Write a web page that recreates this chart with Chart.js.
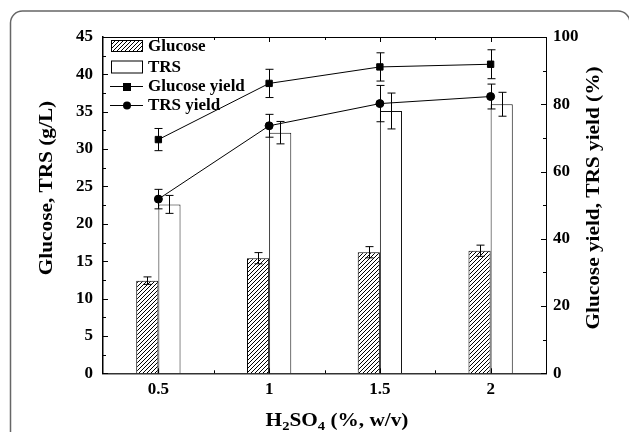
<!DOCTYPE html>
<html>
<head>
<meta charset="utf-8">
<script src="https://cdn.jsdelivr.net/npm/chart.js"></script>
<style>
  html, body { margin: 0; padding: 0; background: #fff; }
  canvas { display: block; }
</style>
</head>
<body>
<canvas id="chart" width="629" height="432"></canvas>
<script>
// H2SO4 concentration vs glucose / TRS and their yields

const categories = ['0.5', '1', '1.5', '2'];

const glucose = [12.4, 15.4, 16.2, 16.4];
const glucoseErr = [0.5, 0.75, 0.75, 0.75];
const trs = [22.6, 32.2, 35.1, 36.0];
const trsErr = [1.2, 1.5, 2.4, 1.6];

const glucoseYield = [69.5, 86.2, 91.1, 91.9];
const glucoseYieldErr = [3.3, 4.2, 4.2, 4.3];
const trsYield = [51.8, 73.6, 80.2, 82.3];
const trsYieldErr = [2.9, 3.4, 5.4, 3.7];

const leftMax = 45, leftStep = 5;
const rightMax = 100, rightStep = 20;

const leftTitle = 'Glucose, TRS (g/L)';
const rightTitle = 'Glucose yield, TRS yield (%)';
const legendLabels = ['Glucose', 'TRS', 'Glucose yield', 'TRS yield'];

const FONT = '"Liberation Serif", "Times New Roman", serif';

// diagonal hatch for the glucose bars
function makeHatch() {
    const c = document.createElement('canvas');
    c.width = 4; c.height = 4;
    const g = c.getContext('2d');
    g.fillStyle = '#fff';
    g.fillRect(0, 0, 4, 4);
    g.strokeStyle = '#000';
    g.lineWidth = 1;
    g.beginPath();
    g.moveTo(0, 4); g.lineTo(4, 0);
    g.moveTo(-1, 1); g.lineTo(1, -1);
    g.moveTo(3, 5); g.lineTo(5, 3);
    g.stroke();
    return g.createPattern(c, 'repeat');
}
const hatch = makeHatch();

const errors = [glucoseErr, trsErr, glucoseYieldErr, trsYieldErr];

// outer rounded frame
const framePlugin = {
    id: 'frame',
    beforeDraw(chart) {
        const ctx = chart.ctx;
        ctx.save();
        ctx.fillStyle = '#fff';
        ctx.fillRect(0, 0, chart.width, chart.height);
        ctx.strokeStyle = '#666';
        ctx.lineWidth = 1.5;
        const r = 12;
        ctx.beginPath();
        ctx.moveTo(10.5, chart.height + 2);
        ctx.lineTo(10.5, 11 + r);
        ctx.arcTo(10.5, 11, 10.5 + r, 11, r);
        ctx.lineTo(630 - r, 11);
        ctx.arcTo(630, 11, 630, 11 + r, r);
        ctx.lineTo(630, chart.height + 2);
        ctx.stroke();
        ctx.restore();
    }
};

// rotated title, stretched a little along the text like the original
function vTitle(ctx, text, cx, cy) {
    ctx.save();
    ctx.translate(cx, cy);
    ctx.rotate(-Math.PI / 2);
    ctx.scale(1.12, 1);
    ctx.fillText(text, 0, 0);
    ctx.restore();
}

const decorPlugin = {
    id: 'decor',
    afterDatasetsDraw(chart) {
        const ctx = chart.ctx;
        const area = chart.chartArea;
        const x = chart.scales.x;
        const y = chart.scales.y;
        const y1 = chart.scales.y1;

        ctx.save();
        // error bars
        ctx.strokeStyle = '#000';
        ctx.lineWidth = 1;
        chart.data.datasets.forEach((ds, i) => {
            const meta = chart.getDatasetMeta(i);
            const scale = chart.scales[meta.yAxisID];
            const err = errors[i];
            meta.data.forEach((el, j) => {
                const v = ds.data[j];
                const px = Math.round(el.x) + 0.5;
                const top = scale.getPixelForValue(v + err[j]);
                const bot = scale.getPixelForValue(v - err[j]);
                ctx.beginPath();
                ctx.moveTo(px, top); ctx.lineTo(px, bot);
                ctx.moveTo(px - 4, top); ctx.lineTo(px + 4, top);
                ctx.moveTo(px - 4, bot); ctx.lineTo(px + 4, bot);
                ctx.stroke();
            });
        });

        // top frame line
        ctx.beginPath();
        ctx.moveTo(area.left, area.top + 0.5);
        ctx.lineTo(area.right, area.top + 0.5);
        ctx.stroke();

        // inward ticks, left axis
        ctx.beginPath();
        for (let v = 0; v <= leftMax; v += leftStep / 2) {
            const py = Math.round(y.getPixelForValue(v)) + 0.5;
            const len = (v % leftStep === 0) ? 5 : 3;
            ctx.moveTo(area.left, py); ctx.lineTo(area.left + len, py);
        }
        // right axis
        for (let v = 0; v <= rightMax; v += rightStep / 2) {
            const py = Math.round(y1.getPixelForValue(v)) + 0.5;
            const len = (v % rightStep === 0) ? 5 : 3;
            ctx.moveTo(area.right, py); ctx.lineTo(area.right - len, py);
        }
        // top and bottom ticks, at categories and half-way
        const half = (x.getPixelForValue(1) - x.getPixelForValue(0)) / 2;
        categories.forEach((c, i) => {
            const px = x.getPixelForValue(i);
            [px, px + half].forEach((p, k) => {
                if (p >= area.right - 1) return;
                const xx = Math.round(p) + 0.5;
                const len = k === 0 ? 5 : 3;
                ctx.moveTo(xx, area.top); ctx.lineTo(xx, area.top + len);
                ctx.moveTo(xx, area.bottom); ctx.lineTo(xx, area.bottom - len);
            });
        });
        ctx.stroke();

        // legend
        const lx = 111, lw = 31, tx = 148;
        const rows = [46, 66.5, 86, 105];
        // hatched box
        ctx.fillStyle = hatch;
        ctx.fillRect(lx, rows[0] - 6, lw, 11);
        ctx.strokeStyle = '#000';
        ctx.strokeRect(lx + 0.5, rows[0] - 5.5, lw, 11);
        // open box
        ctx.fillStyle = '#fff';
        ctx.fillRect(lx, rows[1] - 6, lw, 12);
        ctx.strokeRect(lx + 0.5, rows[1] - 5.5, lw, 12);
        // line + markers
        ctx.beginPath();
        ctx.moveTo(lx - 1, rows[2] + 0.5); ctx.lineTo(lx + lw + 1, rows[2] + 0.5);
        ctx.moveTo(lx - 1, rows[3] + 0.5); ctx.lineTo(lx + lw + 1, rows[3] + 0.5);
        ctx.stroke();
        ctx.fillStyle = '#000';
        ctx.fillRect(lx + lw / 2 - 3.5, rows[2] - 3, 8, 8);
        ctx.beginPath();
        ctx.arc(lx + lw / 2 + 0.5, rows[3] + 0.5, 4, 0, Math.PI * 2);
        ctx.fill();
        ctx.font = 'bold 17px ' + FONT;
        ctx.textBaseline = 'middle';
        ctx.textAlign = 'left';
        legendLabels.forEach((t, i) => ctx.fillText(t, tx, rows[i] + 1));

        // axis titles
        ctx.font = 'bold 19px ' + FONT;
        ctx.textAlign = 'center';
        vTitle(ctx, leftTitle, 47, 188);
        vTitle(ctx, rightTitle, 594, 198);

        // x title with subscripts: H2SO4 (%, w/v)
        const parts = [['H', false], ['2', true], ['SO', false], ['4', true], [' (%, w/v)', false]];
        const big = 'bold 19px ' + FONT, small = 'bold 13px ' + FONT;
        ctx.textAlign = 'left';
        ctx.textBaseline = 'alphabetic';
        const sx = 1.12;
        let total = 0;
        parts.forEach(([s, sub]) => { ctx.font = sub ? small : big; total += ctx.measureText(s).width * sx; });
        let cx = 337 - total / 2;
        parts.forEach(([s, sub]) => {
            ctx.font = sub ? small : big;
            ctx.save();
            ctx.translate(cx, sub ? 430 : 426);
            ctx.scale(sx, 1);
            ctx.fillText(s, 0, 0);
            ctx.restore();
            cx += ctx.measureText(s).width * sx;
        });
        ctx.restore();
    }
};

new Chart(document.getElementById('chart'), {
    data: {
        labels: categories,
        datasets: [
            {
                type: 'bar', label: 'Glucose', data: glucose, yAxisID: 'y',
                backgroundColor: hatch, borderColor: '#000', borderWidth: 1,
                barPercentage: 1, categoryPercentage: 0.4, order: 2
            },
            {
                type: 'bar', label: 'TRS', data: trs, yAxisID: 'y',
                backgroundColor: '#fff', borderColor: '#111', borderWidth: 1,
                barPercentage: 1, categoryPercentage: 0.4, order: 2
            },
            {
                type: 'line', label: 'Glucose yield', data: glucoseYield, yAxisID: 'y1',
                borderColor: '#000', borderWidth: 1, backgroundColor: '#000',
                pointStyle: 'rect', pointRadius: 4.5, tension: 0, order: 1
            },
            {
                type: 'line', label: 'TRS yield', data: trsYield, yAxisID: 'y1',
                borderColor: '#000', borderWidth: 1, backgroundColor: '#000',
                pointStyle: 'circle', pointRadius: 4, tension: 0, order: 1
            }
        ]
    },
    options: {
        responsive: false,
        animation: false,
        events: [],
        layout: { padding: { top: 37, left: 0, right: 0, bottom: 0 } },
        plugins: { legend: { display: false }, tooltip: { enabled: false } },
        scales: {
            x: {
                type: 'category', offset: true,
                grid: { display: false, drawTicks: false },
                border: { display: true, color: '#333', width: 1.5 },
                ticks: { color: '#000', padding: 6, font: { family: FONT, size: 17, weight: 'bold' } },
                afterFit: s => { s.height = 58.7; }
            },
            y: {
                position: 'left', min: 0, max: leftMax,
                grid: { display: false, drawTicks: false },
                border: { display: true, color: '#000', width: 1.5 },
                ticks: { stepSize: leftStep, color: '#000', padding: 10, font: { family: FONT, size: 17, weight: 'bold' } },
                afterFit: s => { s.width = 103; }
            },
            y1: {
                position: 'right', min: 0, max: rightMax,
                grid: { display: false, drawTicks: false },
                border: { display: true, color: '#000', width: 1 },
                ticks: { stepSize: rightStep, color: '#000', padding: 7, font: { family: FONT, size: 17, weight: 'bold' } },
                afterFit: s => { s.width = 83; }
            }
        }
    },
    plugins: [framePlugin, decorPlugin]
});
</script>
</body>
</html>
